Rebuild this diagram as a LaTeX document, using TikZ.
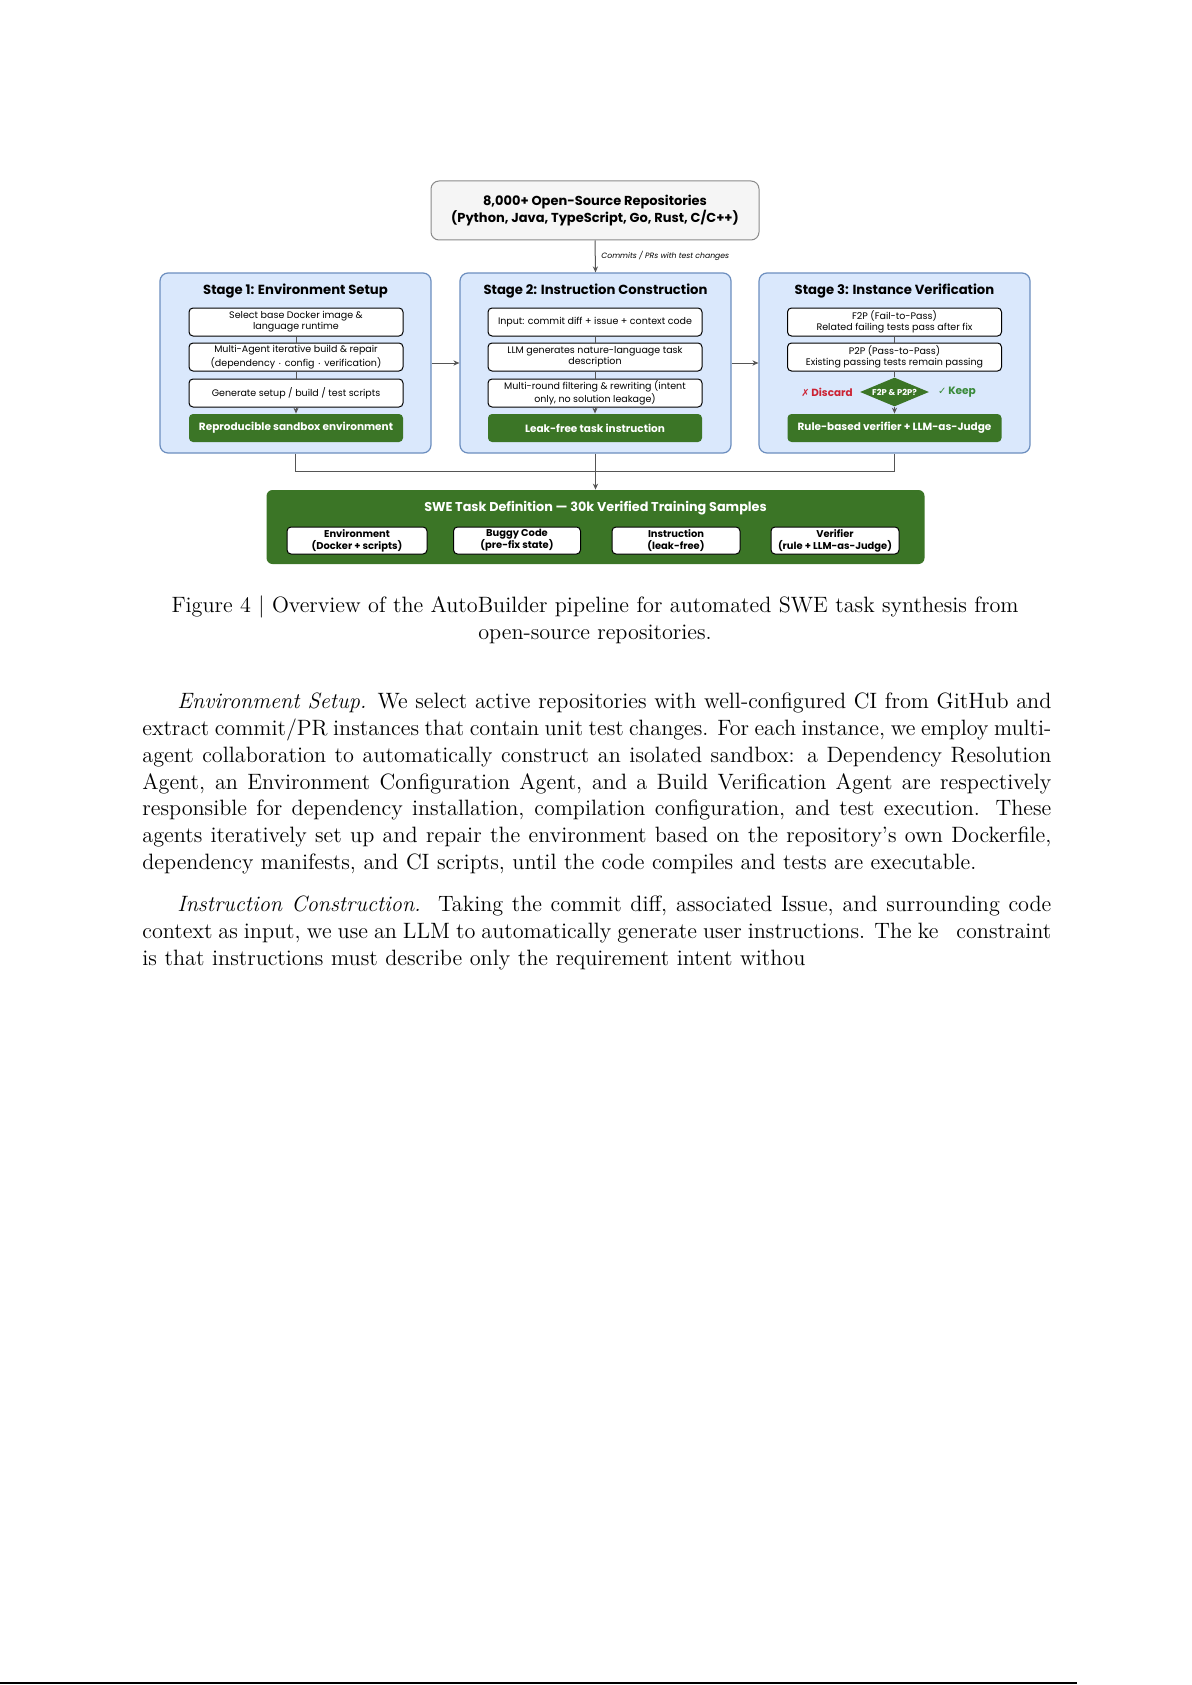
\documentclass[tikz,border=0pt]{standalone}
\usepackage{fontspec}
\usetikzlibrary{arrows.meta,shapes.geometric}
\newfontfamily\dg{Poppins}
\newfontfamily\symf{DejaVu Sans}
\definecolor{stagefill}{HTML}{DAE8FC}
\definecolor{stageborder}{HTML}{6C8EBF}
\definecolor{dgreen}{HTML}{3B7526}
\definecolor{topfill}{HTML}{F5F5F5}
\definecolor{topborder}{HTML}{8A8A8A}
\definecolor{linegrey}{HTML}{555555}
\definecolor{discardred}{HTML}{CC2233}
\definecolor{keepgreen}{HTML}{3A8A3A}
\tikzset{
  stagebox/.style={draw=stageborder, fill=stagefill, rounded corners=4pt, line width=0.6pt,
    minimum width=135.5pt, minimum height=90pt, inner sep=0pt},
  stagetitle/.style={inner sep=0pt, font=\dg\bfseries\fontsize{6.6}{8}\selectfont},
  inbox/.style={draw=black, fill=white, rounded corners=2pt, line width=0.5pt,
    minimum width=107pt, minimum height=14pt, inner sep=0pt, align=center,
    font=\dg\fontsize{4.75}{5.6}\selectfont},
  gbox/.style={fill=dgreen, rounded corners=2pt, minimum width=107pt, minimum height=14pt,
    inner sep=0pt, text=white, font=\dg\bfseries\fontsize{5.25}{6}\selectfont},
  subbox/.style={draw=black, fill=white, rounded corners=2pt, line width=0.5pt,
    minimum height=13.5pt, inner sep=0pt, align=center,
    font=\dg\bfseries\fontsize{4.95}{6}\selectfont},
  conn/.style={draw=linegrey, line width=0.5pt},
  arr/.style={conn, -{Stealth[length=3pt,width=2.6pt]}},
  bodyline/.style={anchor=base west, inner sep=0pt, font=\fontsize{11.1}{13.5}\selectfont},
}
\begin{document}
\begin{tikzpicture}[x=0.5pt,y=-0.5pt]
\useasboundingbox (0,0) rectangle (1192,1685);
\fill[white] (0,0) rectangle (1192,1685);

% top box
\node[draw=topborder, fill=topfill, rounded corners=4pt, line width=0.5pt,
  minimum width=164pt, minimum height=29.5pt, inner sep=0pt, align=center,
  font=\dg\bfseries\fontsize{6.5}{7.2}\selectfont] (top) at (595,210.5)
  {8,000+ Open-Source Repositories\\(Python, Java, TypeScript, Go, Rust, C/C++)};

% stages
\node[stagebox] (s1) at (295.5,363) {};
\node[stagebox] (s2) at (595.5,363) {};
\node[stagebox] (s3) at (894.5,363) {};

\node[stagetitle] (s1t) at (295.5,291.5) {Stage 1: Environment Setup};
\node[stagetitle] (s2t) at (595.5,291.5) {Stage 2: Instruction Construction};
\node[stagetitle] (s3t) at (894.5,291.5) {Stage 3: Instance Verification};

\node[inbox] (s1a) at (296,322) {Select base Docker image \&\\language runtime};
\node[inbox] (s1b) at (296,357) {Multi-Agent iterative build \& repair\\(dependency $\cdot$ config $\cdot$ verification)};
\node[inbox] (s1c) at (296,393) {Generate setup / build / test scripts};
\node[gbox] (s1g) at (296,428) {Reproducible sandbox environment};

\node[inbox] (s2a) at (595,322) {Input: commit diff + issue + context code};
\node[inbox] (s2b) at (595,357) {LLM generates nature-language task\\description};
\node[inbox] (s2c) at (595,393) {Multi-round filtering \& rewriting (intent\\only, no solution leakage)};
\node[gbox] (s2g) at (595,428) {Leak-free task instruction};

\node[inbox] (s3a) at (894.5,322) {F2P (Fail-to-Pass)\\Related failing tests pass after fix};
\node[inbox] (s3b) at (894.5,357) {P2P (Pass-to-Pass)\\Existing passing tests remain passing};
\node[diamond, aspect=2.38, fill=dgreen, inner sep=0pt, minimum width=34.5pt, minimum height=14.5pt,
  text=white, font=\dg\bfseries\fontsize{4.2}{4.5}\selectfont] (dia) at (894.5,392) {F2P \& P2P?};
\node[gbox] (s3g) at (894.5,428) {Rule-based verifier + LLM-as-Judge};
\node[inner sep=0pt, text=discardred, font=\dg\bfseries\fontsize{5.2}{6}\selectfont] (disc) at (827,392)
  {{\symf\fontsize{4.9}{6}\selectfont ✗}\,Discard};
\node[inner sep=0pt, text=keepgreen, font=\dg\bfseries\fontsize{5.3}{6}\selectfont] (keep) at (957,392)
  {{\symf\fontsize{5}{6}\selectfont ✓}\,Keep};

% inner connectors
\draw[conn] (s1a) -- (s1b);
\draw[conn] (s1b) -- (s1c);
\draw[arr] (s1c) -- (s1g);
\draw[conn] (s2a) -- (s2b);
\draw[conn] (s2b) -- (s2c);
\draw[arr] (s2c) -- (s2g);
\draw[conn] (s3a) -- (s3b);
\draw[conn] (s3b) -- (dia);
\draw[arr] (dia) -- (s3g);

% top arrow + label
\draw[arr] (top.south) -- (s2.north);
\node[anchor=west, inner sep=0pt, font=\dg\itshape\fontsize{3.85}{4}\selectfont] (lbl) at (601,256)
  {Commits / PRs with test changes};

% stage arrows
\draw[arr] (s1.east) -- (s2.west);
\draw[arr] (s2.east) -- (s3.west);

% bottom box
\node[fill=dgreen, rounded corners=3pt, minimum width=329pt, minimum height=37pt, inner sep=0pt] (bot) at (595.5,527) {};
\node[inner sep=0pt, text=white, font=\dg\bfseries\fontsize{6.4}{7}\selectfont] (bott) at (595.5,508.5)
  {SWE Task Definition — 30k Verified Training Samples};
\node[subbox, minimum width=70pt] (b1) at (357,540.5) {Environment\\(Docker + scripts)};
\node[subbox, minimum width=63.5pt] (b2) at (517,540.5) {Buggy Code\\(pre-fix state)};
\node[subbox, minimum width=64pt] (b3) at (676,540.5) {Instruction\\(leak-free)};
\node[subbox, minimum width=64pt] (b4) at (835,540.5) {Verifier\\(rule + LLM-as-Judge)};

% merge connectors
\coordinate (jy) at (0,471);
\draw[conn] (s1.south) -- (s1.south |- jy) -| (s3.south);
\draw[arr] (s2.south) -- (bot.north);

% caption
\node[anchor=base, inner sep=0pt, font=\fontsize{11.1}{13.5}\selectfont] (cap1) at (595,612)
  {\makebox[423.5pt][s]{Figure 4 | Overview of the AutoBuilder pipeline for automated SWE task synthesis from}};
\node[anchor=base, inner sep=0pt, font=\fontsize{11.1}{13.5}\selectfont] (cap2) at (595,639)
  {open-source repositories.};

% body text
\node[bodyline] (l1) at (177,708) {\makebox[437pt][s]{\textit{Environment Setup.} We select active repositories with well-configured CI from GitHub and}};
\node[bodyline] (l2) at (142,735) {\makebox[454.5pt][s]{extract commit/PR instances that contain unit test changes. For each instance, we employ multi-}};
\node[bodyline] (l3) at (142,762) {\makebox[454.5pt][s]{agent collaboration to automatically construct an isolated sandbox: a Dependency Resolution}};
\node[bodyline] (l4) at (142,789) {\makebox[454.5pt][s]{Agent, an Environment Configuration Agent, and a Build Verification Agent are respectively}};
\node[bodyline] (l5) at (142,815) {\makebox[454.5pt][s]{responsible for dependency installation, compilation configuration, and test execution. These}};
\node[bodyline] (l6) at (142,842) {\makebox[454.5pt][s]{agents iteratively set up and repair the environment based on the repository’s own Dockerfile,}};
\node[bodyline] (l7) at (142,869) {\makebox[417pt][s]{dependency manifests, and CI scripts, until the code compiles and tests are executable.}};
\node[bodyline] (l8) at (177,911) {\makebox[437pt][s]{\textit{Instruction Construction.}\ \ Taking the commit diff, associated Issue, and surrounding code}};
\node[bodyline] (l9) at (142,938) {\makebox[454.5pt][s]{context as input, we use an LLM to automatically generate user instructions. The ke\hspace{6pt} constraint}};
\node[bodyline] (l10) at (142,965) {\makebox[331.5pt][s]{is that instructions must describe only the requirement intent withou}};

% page edge line
\draw[line width=1pt] (0,1683) -- (1077,1683);
\end{tikzpicture}
\end{document}
